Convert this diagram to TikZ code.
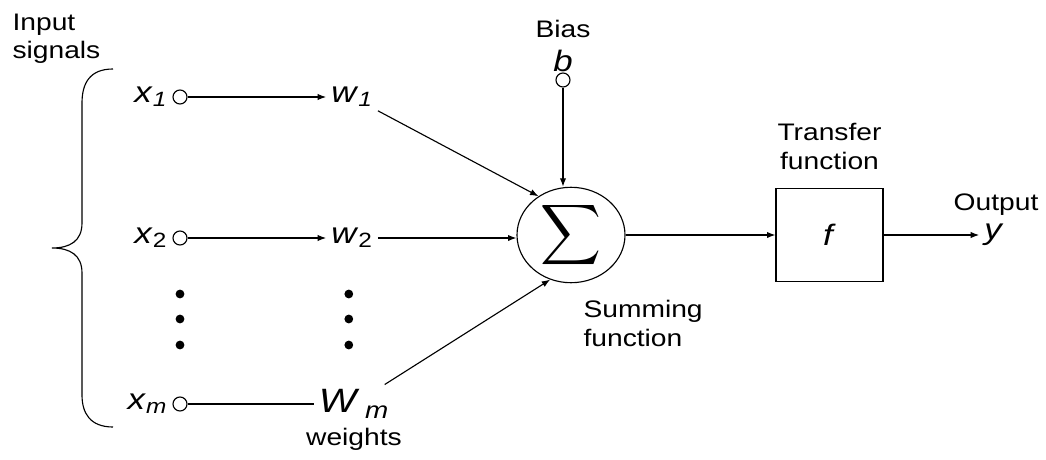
\documentclass[tikz,border=0pt]{standalone}
\usepackage{fontspec}
\setmainfont[FakeStretch=1.18]{Liberation Sans}
\usepackage{graphicx}
\usetikzlibrary{positioning,shapes.geometric,arrows.meta}
\newcommand\sig[2]{\textit{#1}\textsubscript{#2}}
\tikzset{
  txt/.style={font=\fontsize{17}{20.5}\selectfont, align=center, inner sep=0pt},
  var/.style={font=\fontsize{21}{24}\selectfont},
  port/.style={circle, draw, minimum size=0.35cm, inner sep=0pt},
  dot/.style={circle, fill, minimum size=0.22cm, inner sep=0pt},
}
\begin{document}
\begin{tikzpicture}[line width=0.8pt, >={Latex[length=6pt,width=4.5pt]}]
\useasboundingbox (0,0) rectangle (26.15,11.475);
% inputs
\node[txt, align=left, anchor=north west] (insig) at (0.3,11.15) {Input\\signals};
\node[port] (x1c) at (4.5,9.05) {};
\node[port] (x2c) at (4.5,5.525) {};
\node[port] (xmc) at (4.5,1.375) {};
\node[var, left=0pt of x1c] (x1) {\sig{x}{\textit{1}}};
\node[var, left=0pt of x2c] (x2) {\sig{x}{2}};
\node[var, left=0pt of xmc] (xm) {\sig{x}{\textit{m}}};
\draw (2.825,9.75) .. controls (2.25,9.75) and (2.05,9.4) .. (2.05,8.9) -- (2.05,5.9)
  .. controls (2.05,5.45) and (1.75,5.275) .. (1.3,5.275)
  .. controls (1.75,5.275) and (2.05,5.1) .. (2.05,4.65) -- (2.05,1.6)
  .. controls (2.05,1.15) and (2.25,0.8) .. (2.825,0.8);
% weights
\node[var] (w1) at (8.8,9.05) {\sig{w}{\textit{1}}};
\node[var] (w2) at (8.8,5.525) {\sig{w}{2}};
\node[var] (wm) at (8.85,1.375) {\fontsize{24}{27}\selectfont\textit{W}\,\textsubscript{\textit{m}}};
\node[txt, below=0.1cm of wm] (wlbl) {weights};
\draw[->] (x1c) -- (w1);
\draw[->] (x2c) -- (w2);
\draw (xmc) -- (wm);
\foreach \i/\yy in {1/4.125, 2/3.5, 3/2.85} {
  \node[dot] (xd\i) at (4.5,\yy) {};
  \node[dot] (wd\i) at (8.72,\yy) {};
}
% summing junction
\node[draw, ellipse, minimum width=2.7cm, minimum height=2.25cm, inner sep=0pt] (s) at (14.275,5.6)
  {\scalebox{3}{$\displaystyle\sum$}};
\node[txt, align=left, anchor=north west] (slbl) at (14.575,3.98) {Summing\\function};
\node[port] (bc) at (14.075,9.475) {};
\node[var, above=-0.12cm of bc] (b) {\textit{b}};
\node[txt, above=0.17cm of b] (blbl) {Bias};
\draw[->] (bc) -- (bc |- s.north);
\draw[->] (w1) -- (s.130);
\draw[->] (w2) -- (w2 -| s.west);
\draw[->] (wm) -- (s.245);
% transfer
\node[draw, minimum width=2.675cm, minimum height=2.325cm, var] (fb) at (20.7375,5.6) {\textit{f}};
\node[txt, above=0.45cm of fb] (flbl) {Transfer\\function};
\node[var] (y) at (24.85,5.6) {\textit{y}};
\node[txt, anchor=base] (out) at (24.9,6.225) {Output};
\draw[->] (s) -- (fb);
\draw[->] (fb) -- (y);
\end{tikzpicture}
\end{document}
